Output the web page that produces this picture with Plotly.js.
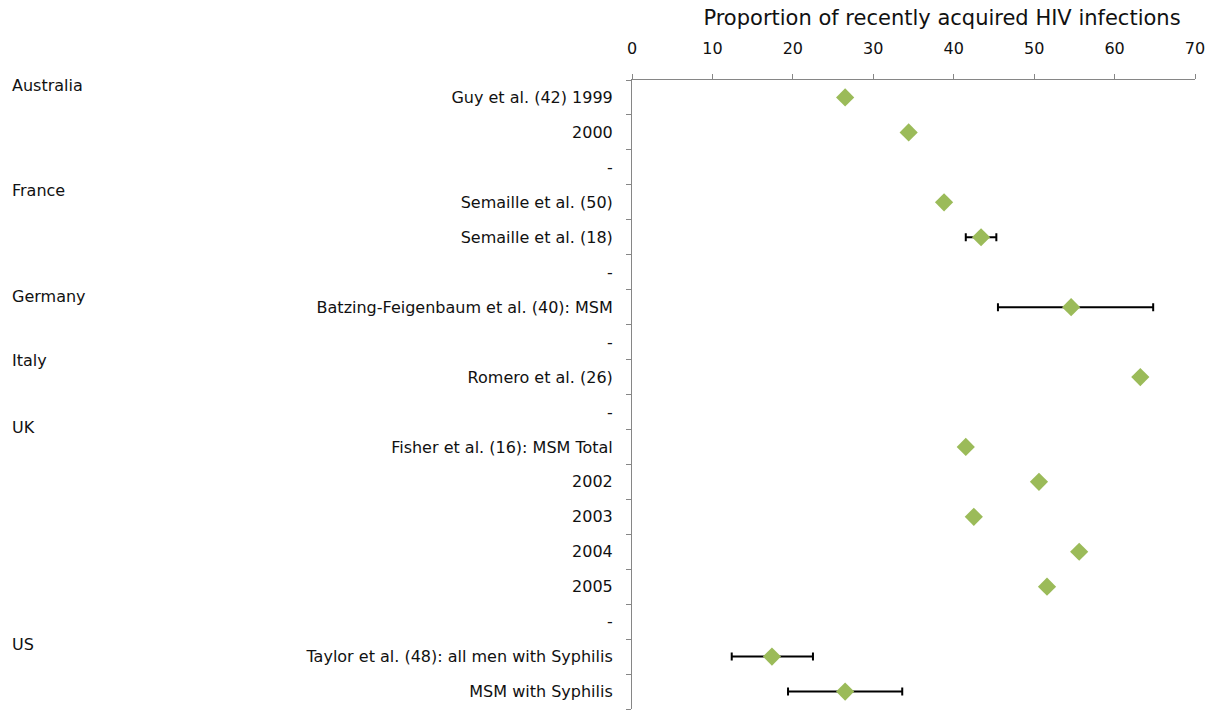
<!DOCTYPE html>
<html>
<head>
<meta charset="utf-8">
<script src="https://cdn.plot.ly/plotly-3.0.1.min.js"></script>
<style>html,body{margin:0;padding:0;background:#fff;}#chart{width:1220px;height:711px;}</style>
</head>
<body>
<div id="chart"></div>
<script>
// Row labels (top to bottom)
const rowLabels = [
  "Guy et al. (42) 1999", "2000", "-",
  "Semaille et al. (50)", "Semaille et al. (18)", "-",
  "Batzing-Feigenbaum et al. (40): MSM", "-",
  "Romero et al. (26)", "-",
  "Fisher et al. (16): MSM Total", "2002", "2003", "2004", "2005", "-",
  "Taylor et al. (48): all men with Syphilis", "MSM with Syphilis"
];
// Point estimates (null = spacer row)
const values = [26.5, 34.4, null, 38.8, 43.4, null, 54.6, null, 63.2, null, 41.5, 50.6, 42.5, 55.6, 51.6, null, 17.4, 26.5];
// Confidence limits (null = none)
const lower = [null, null, null, null, 41.5, null, 45.5, null, null, null, null, null, null, null, null, null, 12.4, 19.4];
const upper = [null, null, null, null, 45.3, null, 64.8, null, null, null, null, null, null, null, null, null, 22.5, 33.6];
// Country group labels
const countries = ["Australia", "France", "Germany", "Italy", "UK", "US"];
const countryRows = [0, 3, 6, 8, 10, 16];

const idx = rowLabels.map((_, i) => i);
const plus = values.map((v, i) => (v !== null && upper[i] !== null) ? upper[i] - v : 0);
const minus = values.map((v, i) => (v !== null && lower[i] !== null) ? v - lower[i] : 0);
const hasErr = values.map((v, i) => v !== null && upper[i] !== null);

const font = "DejaVu Sans, Verdana, sans-serif";

const traceErr = {
  type: "scatter", mode: "markers",
  x: values.map((v, i) => hasErr[i] ? v : null),
  y: idx,
  marker: {symbol: "diamond", size: 14, color: "#9BBB59"},
  error_x: {type: "data", symmetric: false, array: plus, arrayminus: minus, color: "#000", thickness: 2, width: 4},
  showlegend: false, hoverinfo: "x"
};
const tracePts = {
  type: "scatter", mode: "markers",
  x: values.map((v, i) => hasErr[i] ? null : v),
  y: idx,
  marker: {symbol: "diamond", size: 14, color: "#9BBB59"},
  showlegend: false, hoverinfo: "x"
};

const offsets = [-0.34, -0.34, -0.31, -0.46, -0.57, -0.34];
const annotations = countries.map((c, i) => ({
  text: c, xref: "paper", yref: "y",
  x: (10 - 632) / 563, y: countryRows[i] + offsets[i],
  xanchor: "left", yanchor: "middle", showarrow: false,
  font: {family: font, size: 16, color: "#111"}
}));

const boundaries = [];
for (let i = 0; i <= rowLabels.length; i++) boundaries.push(i - 0.5);

const layout = {
  width: 1220, height: 711,
  margin: {l: 632, r: 25, t: 80, b: 2},
  paper_bgcolor: "#fff", plot_bgcolor: "#fff",
  title: {
    text: "Proportion of recently acquired HIV infections",
    font: {family: font, size: 21, color: "#111"},
    xref: "paper", x: (942 - 632) / 563, xanchor: "center",
    yref: "container", y: 1 - 18 / 711, yanchor: "middle"
  },
  xaxis: {
    side: "top", range: [0, 70], dtick: 10, tick0: 0,
    showgrid: false, zeroline: false,
    showline: true, linecolor: "#868686", linewidth: 1,
    ticks: "outside", ticklen: 5, tickcolor: "#868686",
    ticklabelstandoff: 14,
    tickfont: {family: font, size: 16, color: "#111"}
  },
  yaxis: {
    range: [rowLabels.length - 0.5, -0.5],
    tickmode: "array", tickvals: idx, ticktext: rowLabels,
    ticks: "", showgrid: false, zeroline: false,
    showline: true, linecolor: "#868686", linewidth: 1,
    tickfont: {family: font, size: 16, color: "#111"},
    ticklabelstandoff: 15,
    minor: {tickmode: "array", tickvals: boundaries, ticks: "outside", ticklen: 5, tickcolor: "#868686", showgrid: false}
  },
  annotations: annotations
};

Plotly.newPlot("chart", [traceErr, tracePts], layout, {displayModeBar: false, staticPlot: true});
</script>
</body>
</html>
